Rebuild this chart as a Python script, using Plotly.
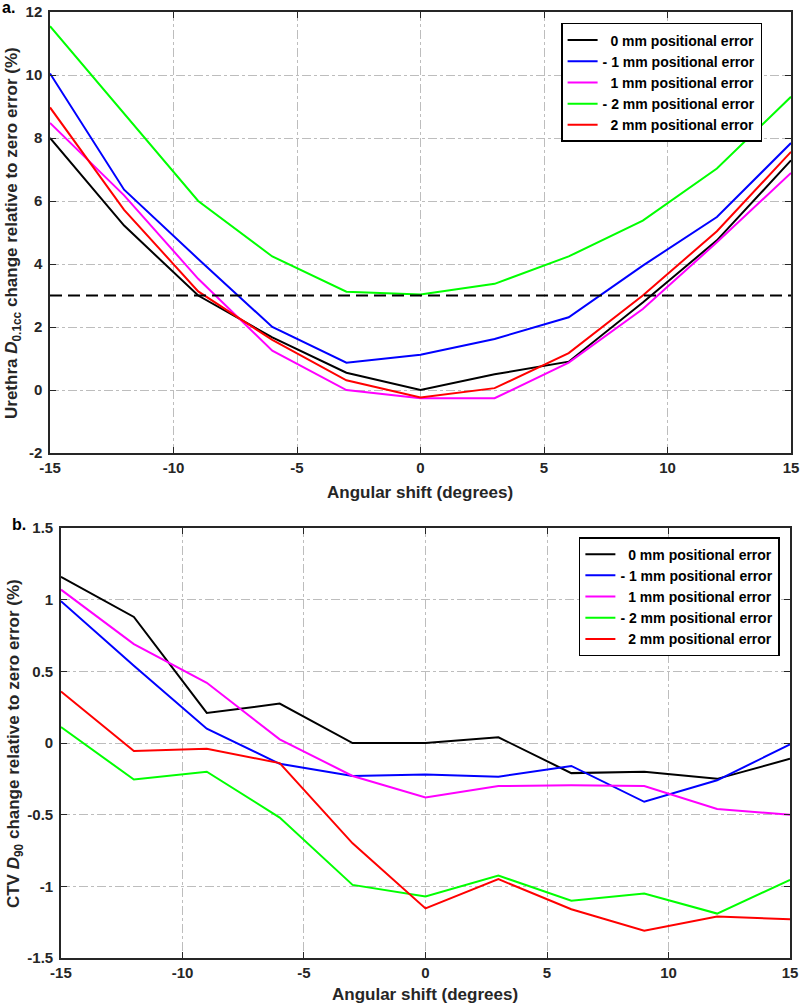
import plotly.graph_objects as go

# angular shift (degrees)
shift = [-15, -12, -9, -6, -3, 0, 3, 6, 9, 12, 15]

series_names = ["\u00a0\u00a00 mm positional error", "- 1 mm positional error",
                "\u00a0\u00a01 mm positional error", "- 2 mm positional error",
                "\u00a0\u00a02 mm positional error"]
series_colors = ["#000000", "#0000ff", "#ff00ff", "#00ff00", "#ff0000"]

# a. Urethra D0.1cc change (%)
ure_0 = [8.0, 5.22, 3.0, 1.67, 0.55, 0.0, 0.5, 0.9, 2.78, 4.75, 7.29]
ure_m1 = [10.05, 6.36, 4.16, 2.0, 0.87, 1.12, 1.62, 2.31, 3.95, 5.49, 7.84]
ure_p1 = [8.48, 6.18, 3.53, 1.25, 0.0, -0.26, -0.26, 0.87, 2.57, 4.69, 6.89]
ure_m2 = [11.55, 8.78, 6.0, 4.24, 3.12, 3.03, 3.37, 4.24, 5.38, 7.03, 9.31]
ure_p2 = [8.97, 5.72, 3.13, 1.59, 0.31, -0.24, 0.06, 1.17, 3.0, 5.04, 7.56]
ure_limit = 3

# b. CTV D90 change (%)
ctv_0 = [1.16, 0.88, 0.21, 0.275, 0.0, 0.0, 0.04, -0.21, -0.2, -0.25, -0.11]
ctv_m1 = [0.99, 0.54, 0.10, -0.145, -0.23, -0.22, -0.235, -0.16, -0.41, -0.26, -0.01]
ctv_p1 = [1.07, 0.69, 0.42, 0.026, -0.23, -0.38, -0.30, -0.295, -0.30, -0.46, -0.50]
ctv_m2 = [0.112, -0.255, -0.20, -0.52, -0.99, -1.07, -0.925, -1.10, -1.05, -1.19, -0.955]
ctv_p2 = [0.36, -0.056, -0.04, -0.14, -0.70, -1.154, -0.95, -1.16, -1.31, -1.21, -1.23]

x_ticks = [-15, -10, -5, 0, 5, 10, 15]
x_ticktext = ["-15", "-10", "-5", "0", "5", "10", "15"]
ure_ticks = [-2, 0, 2, 4, 6, 8, 10, 12]
ure_ticktext = ["-2", "0", "2", "4", "6", "8", "10", "12"]
ctv_ticks = [-1.5, -1, -0.5, 0, 0.5, 1, 1.5]
ctv_ticktext = ["-1.5", "-1", "-0.5", "0", "0.5", "1", "1.5"]

FONT = "Liberation Sans, Arial, sans-serif"
AX = "#262626"

fig = go.Figure()

ure = [ure_0, ure_m1, ure_p1, ure_m2, ure_p2]
ctv = [ctv_0, ctv_m1, ctv_p1, ctv_m2, ctv_p2]

for name, col, ys in zip(series_names, series_colors, ure):
    fig.add_trace(go.Scatter(x=shift, y=ys, mode="lines", name=name,
                             line=dict(color=col, width=2),
                             xaxis="x", yaxis="y", legend="legend"))
# 3% threshold
fig.add_trace(go.Scatter(x=[shift[0], shift[-1]], y=[ure_limit, ure_limit], mode="lines",
                         line=dict(color="#000000", width=2, dash="12px,6px"),
                         showlegend=False, xaxis="x", yaxis="y"))

for name, col, ys in zip(series_names, series_colors, ctv):
    fig.add_trace(go.Scatter(x=shift, y=ys, mode="lines", name=name,
                             line=dict(color=col, width=2),
                             xaxis="x2", yaxis="y2", legend="legend2"))

ax_common = dict(showline=True, linecolor=AX, linewidth=1.5, mirror="ticks",
                 ticks="inside", ticklen=6, tickwidth=1.2, tickcolor=AX,
                 showgrid=True, gridcolor="#bdbdbd", griddash="dashdot", gridwidth=1,
                 zeroline=False, automargin=False,
                 tickfont=dict(family=FONT, size=15, color=AX, weight="bold"))

legend_common = dict(xanchor="right", yanchor="top",
                     bgcolor="white", bordercolor="#000000", borderwidth=1.5,
                     font=dict(family=FONT, size=14, color="#000000", weight="bold"),
                     tracegroupgap=0, itemwidth=30)

fig.update_layout(
    width=800, height=1008,
    margin=dict(l=50, r=9, t=12, b=50),
    paper_bgcolor="white", plot_bgcolor="white",
    font=dict(family=FONT, color=AX),
    xaxis=dict(domain=[0, 1], anchor="y", range=[-15, 15],
               tickvals=x_ticks, ticktext=x_ticktext, **ax_common),
    yaxis=dict(domain=[0.5338, 1], anchor="x", range=[-2, 12], ticklabelstandoff=3,
               tickvals=ure_ticks, ticktext=ure_ticktext, **ax_common),
    xaxis2=dict(domain=[0.0148, 0.9987], anchor="y2", range=[-15, 15],
                tickvals=x_ticks, ticktext=x_ticktext, **ax_common),
    yaxis2=dict(domain=[0, 0.4545], anchor="x2", range=[-1.5, 1.5], ticklabelstandoff=3,
                tickvals=ctv_ticks, ticktext=ctv_ticktext, **ax_common),
    legend=dict(x=0.961, y=0.9884, **legend_common),
    legend2=dict(x=0.985, y=0.445, **legend_common),
)

title_font = dict(family=FONT, size=17, color=AX, weight="bold")
label_font = dict(family=FONT, size=16, color="#000000", weight="bold")
annots = [
    dict(text="Angular shift (degrees)", x=0.4993, y=0.4926),
    dict(text="Angular shift (degrees)", x=0.506, y=-0.0391),
    dict(text="Urethra <i>D</i><sub>0.1cc</sub> change relative to zero error (%)",
         x=-0.0499, y=0.7664, textangle=-90),
    dict(text="CTV <i>D</i><sub>90</sub> change relative to zero error (%)",
         x=-0.0472, y=0.2262, textangle=-90),
    dict(text="a.", x=-0.0675, y=1.0052, xanchor="left", font=label_font),
    dict(text="b.", x=-0.0540, y=0.4587, xanchor="left", font=label_font),
]
for a in annots:
    a.setdefault("font", title_font)
    a.setdefault("xanchor", "center")
    fig.add_annotation(xref="paper", yref="paper", showarrow=False, yanchor="middle", **a)

fig.write_html("out.html", config={"displayModeBar": False},
               post_script="document.body.style.margin='0';")
